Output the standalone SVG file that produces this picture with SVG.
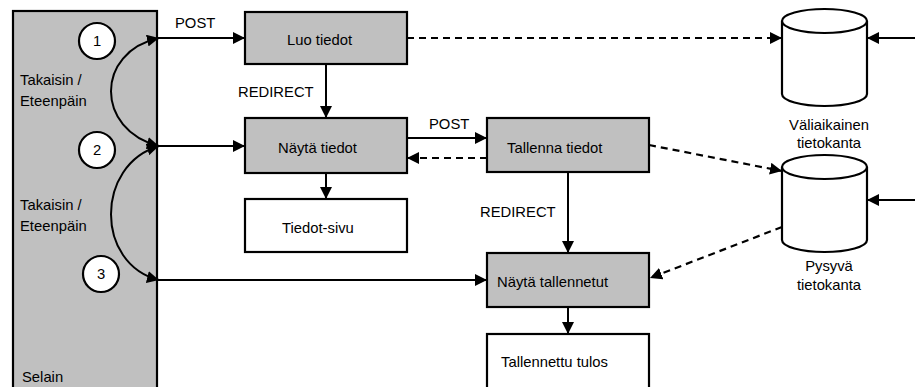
<svg xmlns="http://www.w3.org/2000/svg" width="915" height="387" viewBox="0 0 915 387">
  <style>
    text { font-family: "Liberation Sans", Arial, sans-serif; font-size: 14.8px; fill: #000; }
    .box { stroke: #000; stroke-width: 2.2; }
    .proc { fill: #c0c0c0; }
    .page { fill: #fff; }
    .line { fill: none; stroke: #000; stroke-width: 2; }
    .dash { fill: none; stroke: #000; stroke-width: 2.2; stroke-dasharray: 7 5; }
    .db { fill: #fff; stroke: #000; stroke-width: 2.2; }
    .num { fill: #fff; stroke: #000; stroke-width: 2.2; }
  </style>
  <defs>
    <marker id="arrow" viewBox="0 0 12 12" refX="12" refY="6" markerWidth="12" markerHeight="12" markerUnits="userSpaceOnUse" orient="auto-start-reverse">
      <path d="M0,0 L12,6 L0,12 Z" fill="#000"/>
    </marker>
  </defs>

  <!-- Browser column -->
  <g id="selain">
    <rect class="box proc" x="13" y="11" width="144" height="380"/>
    <text x="22" y="382">Selain</text>
    <text x="20" y="85">Takaisin /</text>
    <text x="20" y="106">Eteenpäin</text>
    <text x="20" y="210">Takaisin /</text>
    <text x="20" y="231">Eteenpäin</text>
  </g>
  <g id="step1">
    <circle class="num" cx="97" cy="41" r="18"/>
    <text x="97" y="46" text-anchor="middle">1</text>
  </g>
  <g id="step2">
    <circle class="num" cx="97" cy="150" r="18"/>
    <text x="97" y="155" text-anchor="middle">2</text>
  </g>
  <g id="step3">
    <circle class="num" cx="101" cy="274" r="18"/>
    <text x="101" y="279" text-anchor="middle">3</text>
  </g>

  <!-- Processing steps -->
  <g id="luo-tiedot">
    <rect class="box proc" x="245" y="12" width="162" height="52"/>
    <text x="287" y="45">Luo tiedot</text>
  </g>
  <g id="nayta-tiedot">
    <rect class="box proc" x="245" y="118" width="162" height="55"/>
    <text x="278" y="153">Näytä tiedot</text>
  </g>
  <g id="tiedot-sivu">
    <rect class="box page" x="245" y="199" width="162" height="53"/>
    <text x="282" y="233">Tiedot-sivu</text>
  </g>
  <g id="tallenna-tiedot">
    <rect class="box proc" x="487" y="118" width="162" height="54"/>
    <text x="507" y="153">Tallenna tiedot</text>
  </g>
  <g id="nayta-tallennetut">
    <rect class="box proc" x="487" y="253" width="162" height="54"/>
    <text x="497" y="287">Näytä tallennetut</text>
  </g>
  <g id="tallennettu-tulos">
    <rect class="box page" x="487" y="334" width="162" height="60"/>
    <text x="501" y="367">Tallennettu tulos</text>
  </g>

  <!-- Databases -->
  <g id="valiaikainen-tietokanta">
    <path class="db" d="M782,21 L782,94 A42.5,12 0 0 0 867,94 L867,21"/>
    <ellipse class="db" cx="824.5" cy="21" rx="42.5" ry="12"/>
    <text x="829" y="130" text-anchor="middle">Väliaikainen</text>
    <text x="829" y="148" text-anchor="middle">tietokanta</text>
  </g>
  <g id="pysyva-tietokanta">
    <path class="db" d="M782,167 L782,240 A42.5,12 0 0 0 867,240 L867,167"/>
    <ellipse class="db" cx="824.5" cy="167" rx="42.5" ry="12"/>
    <text x="829" y="271" text-anchor="middle">Pysyvä</text>
    <text x="829" y="290" text-anchor="middle">tietokanta</text>
  </g>

  <!-- Connectors -->
  <g id="connectors">
    <!-- back / forward navigation -->
    <path class="line" d="M159,146 C95,130 95,52 159,38" marker-start="url(#arrow)" marker-end="url(#arrow)"/>
    <path class="line" d="M159,146 C95,165 95,264 159,280" marker-start="url(#arrow)" marker-end="url(#arrow)"/>

    <path class="line" d="M157,38 L245,38" marker-end="url(#arrow)"/>
    <text x="175" y="28">POST</text>
    <path class="line" d="M157,146 L245,146" marker-end="url(#arrow)"/>
    <path class="line" d="M157,280 L487,280" marker-end="url(#arrow)"/>

    <path class="line" d="M326,64 L326,118" marker-end="url(#arrow)"/>
    <text x="238" y="97">REDIRECT</text>
    <path class="line" d="M326,173 L326,199" marker-end="url(#arrow)"/>

    <path class="line" d="M407,138 L487,138" marker-end="url(#arrow)"/>
    <text x="429" y="129">POST</text>
    <path class="dash" d="M487,158 L407,158" marker-end="url(#arrow)"/>

    <path class="line" d="M568,172 L568,253" marker-end="url(#arrow)"/>
    <text x="480" y="217">REDIRECT</text>
    <path class="line" d="M568,307 L568,334" marker-end="url(#arrow)"/>

    <path class="dash" d="M407,38 L782,38" marker-end="url(#arrow)"/>
    <path class="dash" d="M649,145 L782,171" marker-end="url(#arrow)"/>
    <path class="dash" d="M782,227 L650,278" marker-end="url(#arrow)"/>

    <path class="line" d="M915,38 L867,38" marker-end="url(#arrow)"/>
    <path class="line" d="M915,200 L867,200" marker-end="url(#arrow)"/>
  </g>
</svg>
